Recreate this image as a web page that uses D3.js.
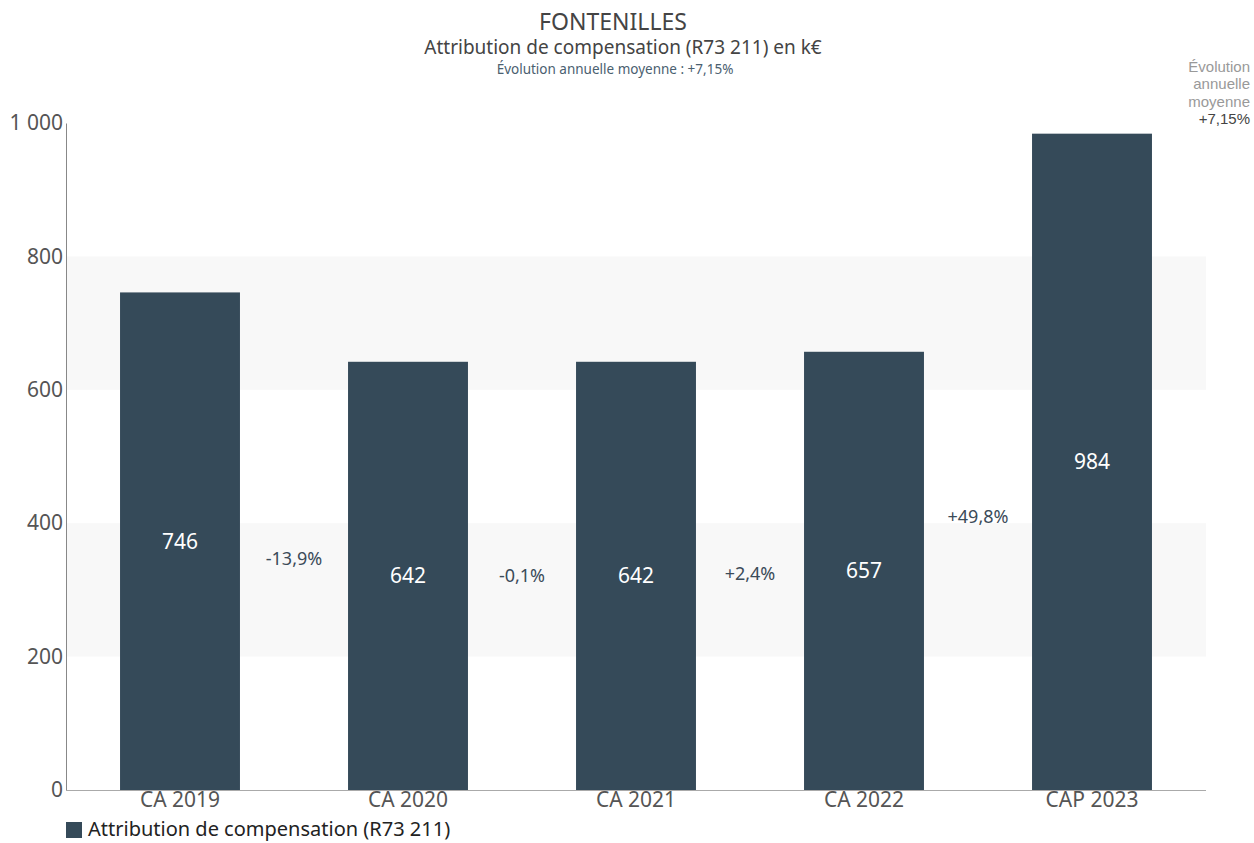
<!DOCTYPE html>
<html>
<head>
<meta charset="utf-8">
<script src="https://cdn.jsdelivr.net/npm/d3@7"></script>
<style>
  html, body { margin: 0; padding: 0; background: #fff; }
  svg text { font-family: "Noto Sans", "Open Sans", sans-serif; }
  svg text.note { font-family: "Liberation Sans", "DejaVu Sans", sans-serif; }
</style>
</head>
<body>
<svg id="chart" width="1254" height="843"></svg>
<script>
// Attribution de compensation (k€) per year
const categories = ["CA 2019", "CA 2020", "CA 2021", "CA 2022", "CAP 2023"];
const values = [746, 642, 642, 657, 984];
const changeLabels = ["-13,9%", "-0,1%", "+2,4%", "+49,8%"];
const yTicks = [0, 200, 400, 600, 800, 1000];
const seriesName = "Attribution de compensation (R73 211)";

const svg = d3.select("#chart");
const margin = { left: 66, right: 48, top: 123, bottom: 53 };
const W = 1254, H = 843;
const x0 = margin.left, x1 = W - margin.right;
const y0 = H - margin.bottom, y1 = margin.top;

const x = d3.scaleBand().domain(categories).range([x0, x1]).paddingInner(0.474).paddingOuter(0.237);
const y = d3.scaleLinear().domain([0, 1000]).range([y0, y1]);

const barColor = "#354a59";
const fmt = d => d3.format(",")(d).replace(/,/g, " ");

// alternating background bands
const bands = [[200, 400], [600, 800]];
svg.append("g").selectAll("rect").data(bands).join("rect")
  .attr("x", x0).attr("width", x1 - x0)
  .attr("y", d => y(d[1])).attr("height", d => y(d[0]) - y(d[1]))
  .attr("fill", "#f8f8f8");

// bars
svg.append("g").selectAll("rect").data(values).join("rect")
  .attr("x", (d, i) => x(categories[i]))
  .attr("width", x.bandwidth())
  .attr("y", d => y(d))
  .attr("height", d => y(0) - y(d))
  .attr("fill", barColor);

// value labels inside bars
svg.append("g").selectAll("text").data(values).join("text")
  .attr("x", (d, i) => x(categories[i]) + x.bandwidth() / 2)
  .attr("y", d => (y(d) + y(0)) / 2)
  .attr("dy", "0.35em")
  .attr("text-anchor", "middle")
  .attr("font-size", 21)
  .attr("fill", "#ffffff")
  .text(fmt);

// change labels between bars
svg.append("g").selectAll("text").data(changeLabels).join("text")
  .attr("x", (d, i) => (x(categories[i]) + x(categories[i + 1]) + x.bandwidth()) / 2)
  .attr("y", (d, i) => ((y(values[i]) + y(0)) / 2 + (y(values[i + 1]) + y(0)) / 2) / 2)
  .attr("dy", "0.35em")
  .attr("text-anchor", "middle")
  .attr("font-size", 18)
  .attr("fill", "#3b4b58")
  .text(d => d);

// y axis
const yAxis = svg.append("g").attr("transform", `translate(${x0},0)`)
  .call(d3.axisLeft(y).tickValues(yTicks).tickSize(0).tickPadding(3).tickFormat(fmt));
yAxis.select(".domain").attr("stroke", "#888");
yAxis.selectAll("text").attr("font-size", 21).attr("fill", "#555");

// x axis
const xAxis = svg.append("g").attr("transform", `translate(0,${y0})`)
  .call(d3.axisBottom(x).tickSize(0).tickPadding(2));
xAxis.select(".domain").attr("stroke", "#aaa").attr("d", `M${x0},0.5H${x1}`);
xAxis.selectAll("text").attr("font-size", 21).attr("fill", "#555");

// titles
svg.append("text").attr("x", 613).attr("y", 30).attr("text-anchor", "middle")
  .attr("font-size", 23).attr("fill", "#444").text("FONTENILLES");
svg.append("text").attr("x", 623).attr("y", 54).attr("text-anchor", "middle")
  .attr("font-size", 19).attr("fill", "#444").text("Attribution de compensation (R73 211) en k€");
svg.append("text").attr("x", 615).attr("y", 74).attr("text-anchor", "middle")
  .attr("font-size", 13.5).attr("fill", "#4a6070").text("Évolution annuelle moyenne : +7,15%");

// side note, one text per line
const noteLines = [
  { t: "Évolution", c: "#999" },
  { t: "annuelle", c: "#999" },
  { t: "moyenne", c: "#999" },
  { t: "+7,15%", c: "#444" }
];
svg.append("g").selectAll("text").data(noteLines).join("text")
  .attr("class", "note")
  .attr("x", 1250)
  .attr("y", (d, i) => 72 + i * 17.4)
  .attr("text-anchor", "end")
  .attr("font-size", 15)
  .attr("fill", d => d.c)
  .text(d => d.t);

// legend
svg.append("rect").attr("x", 66).attr("y", 822).attr("width", 16).attr("height", 16).attr("fill", barColor);
svg.append("text").attr("x", 88).attr("y", 836).attr("font-size", 20).attr("fill", "#222").text(seriesName);
</script>
</body>
</html>
